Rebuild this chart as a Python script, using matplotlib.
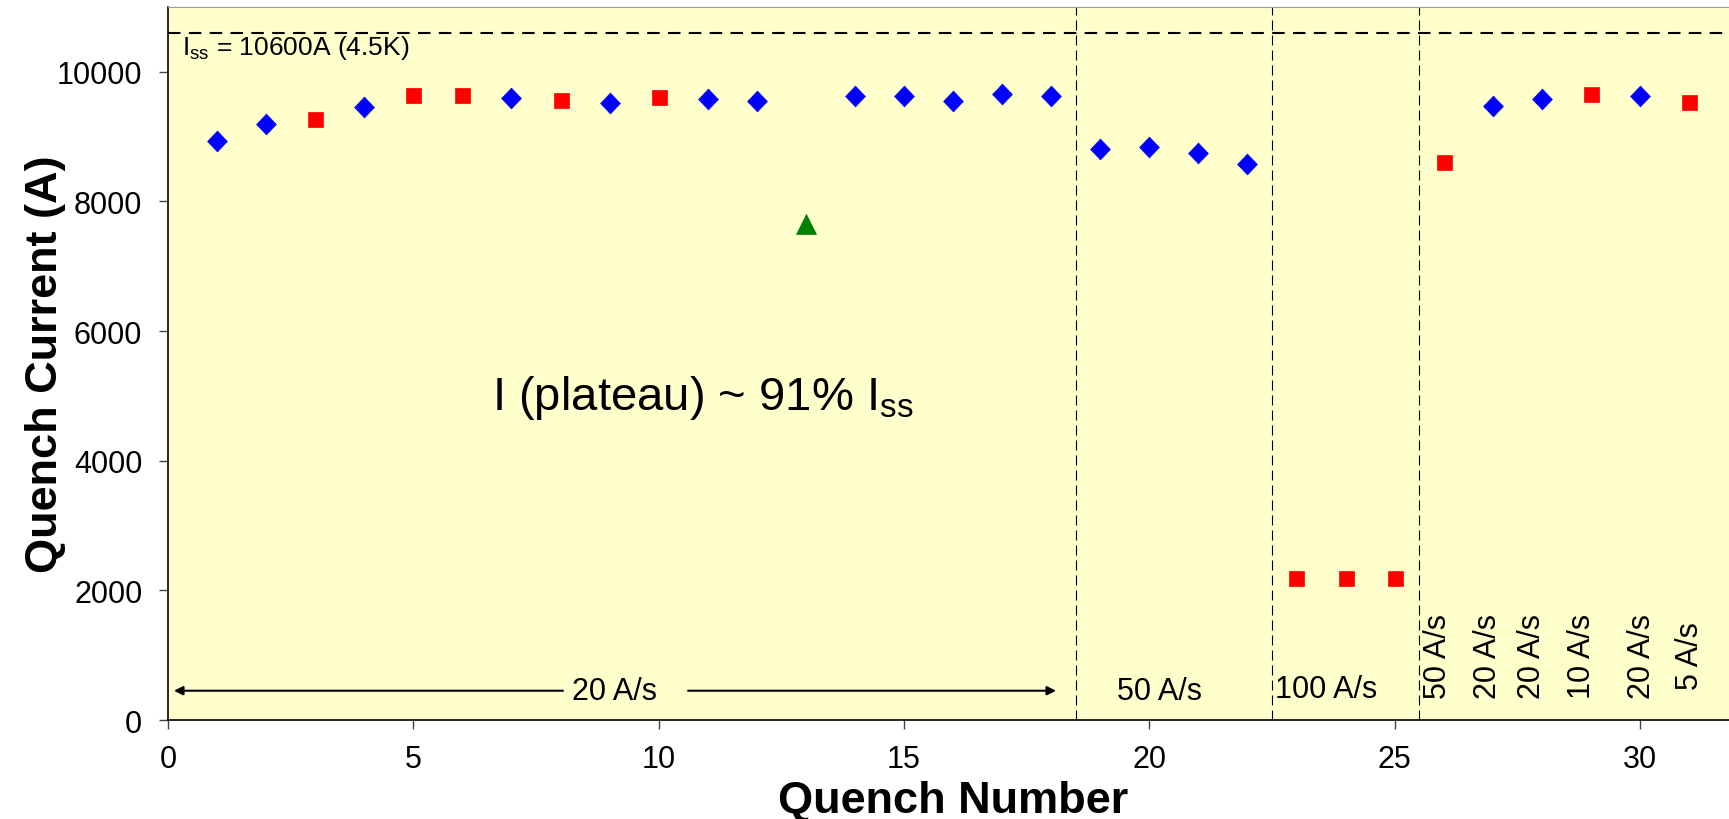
import matplotlib
matplotlib.use("Agg")
import matplotlib.pyplot as plt
from matplotlib.path import Path

plt.rcParams['font.family'] = ['Liberation Sans', 'DejaVu Sans']
plt.rcParams['mathtext.fontset'] = 'custom'
plt.rcParams['mathtext.rm'] = 'Liberation Sans'
plt.rcParams['mathtext.it'] = 'Liberation Sans:italic'
plt.rcParams['mathtext.bf'] = 'Liberation Sans:bold'

# Quench history
quench_no = list(range(1, 32))
quench_current = [8930, 9200, 9270, 9460, 9645, 9645, 9595, 9560, 9510, 9610,
                  9575, 9545, 7645, 9630, 9630, 9545, 9660, 9630, 8815, 8845,
                  8745, 8575, 2185, 2185, 2185, 8610, 9475, 9575, 9660, 9630, 9540]
marker_kind = ['D', 'D', 's', 'D', 's', 's', 'D', 's', 'D', 's',
               'D', 'D', '^', 'D', 'D', 'D', 'D', 'D', 'D', 'D',
               'D', 'D', 's', 's', 's', 's', 'D', 'D', 's', 'D', 's']

i_ss = 10600
section_bounds = [18.5, 22.5, 25.5]
late_rates = ['50 A/s', '20 A/s', '20 A/s', '10 A/s', '20 A/s', '5 A/s']
late_rate_x = [25.88, 26.9, 27.8, 28.83, 30.05, 31.02]

x_ticks = [0, 5, 10, 15, 20, 25, 30]
y_ticks = [0, 2000, 4000, 6000, 8000, 10000]

fig = plt.figure(figsize=(17.29, 8.2), dpi=100)
ax = fig.add_axes([0.0972, 0.1207, 0.908, 0.8697])
ax.set_facecolor('#FFFFCC')
ax.set_xlim(0, 32)
ax.set_ylim(0, 11000)

diamond = Path([(0, 1), (0.95, 0), (0, -1), (-0.95, 0), (0, 1)],
               [Path.MOVETO, Path.LINETO, Path.LINETO, Path.LINETO, Path.CLOSEPOLY])
styles = {
    'D': dict(marker=diamond, color='#0000FF', ms=15),
    's': dict(marker='s', color='#FF0000', ms=10.8),
    '^': dict(marker='^', color='#008000', ms=14),
}
for kind, st in styles.items():
    xs = [x for x, k in zip(quench_no, marker_kind) if k == kind]
    ys = [y for y, k in zip(quench_current, marker_kind) if k == kind]
    ax.plot(xs, ys, linestyle='none', marker=st['marker'], markersize=st['ms'],
            markerfacecolor=st['color'], markeredgecolor=st['color'],
            markeredgewidth=0.5, zorder=3)

# short-sample limit
ax.axhline(i_ss, color='black', lw=1.5, dashes=(6, 4), zorder=2)
ax.text(0.29, 10270, r'I$_{\rm ss}$ = 10600A (4.5K)', fontsize=19,
        va='baseline', ha='left')

for xb in section_bounds:
    ax.axvline(xb, color='black', lw=0.8, dashes=(9, 4.5), zorder=2)

# ramp-rate annotations
arrow_y = 452
ax.annotate('', xy=(0.12, arrow_y), xytext=(8.05, arrow_y),
            arrowprops=dict(arrowstyle='-|>', color='black', lw=1.5,
                            mutation_scale=13, shrinkA=0, shrinkB=0))
ax.annotate('', xy=(18.1, arrow_y), xytext=(10.6, arrow_y),
            arrowprops=dict(arrowstyle='-|>', color='black', lw=1.5,
                            mutation_scale=13, shrinkA=0, shrinkB=0))
ax.text(9.1, arrow_y, '20 A/s', fontsize=22, ha='center', va='center')
ax.text(20.2, arrow_y, '50 A/s', fontsize=22, ha='center', va='center')
ax.text(22.56, arrow_y + 20, '100 A/s', fontsize=22, ha='left', va='center')
for xr, lab in zip(late_rate_x, late_rates):
    ax.text(xr, 1000, lab, fontsize=22, rotation=90, ha='center', va='center')

ax.text(10.9, 4800, r'I (plateau) ~ 91% I$_{\rm ss}$', fontsize=34,
        ha='center', va='baseline')

ax.set_xticks(x_ticks)
ax.set_yticks(y_ticks)
ax.tick_params(axis='both', labelsize=22, direction='out', length=6.5, width=1,
               color='#444444')
ax.tick_params(axis='x', pad=11)
ax.tick_params(axis='y', pad=12)
for side in ['left', 'bottom']:
    ax.spines[side].set_color('black')
    ax.spines[side].set_linewidth(1.2)
ax.spines['top'].set_color('#999999')
ax.spines['right'].set_visible(False)

ax.set_xlabel('Quench Number', fontsize=32.5, fontweight='bold')
ax.set_ylabel('Quench Current (A)', fontsize=32.5, fontweight='bold')
ax.xaxis.set_label_coords(0.5, -0.084)
ax.yaxis.set_label_coords(-0.065, 0.5)

fig.savefig('out.png', dpi=100, facecolor='white')
